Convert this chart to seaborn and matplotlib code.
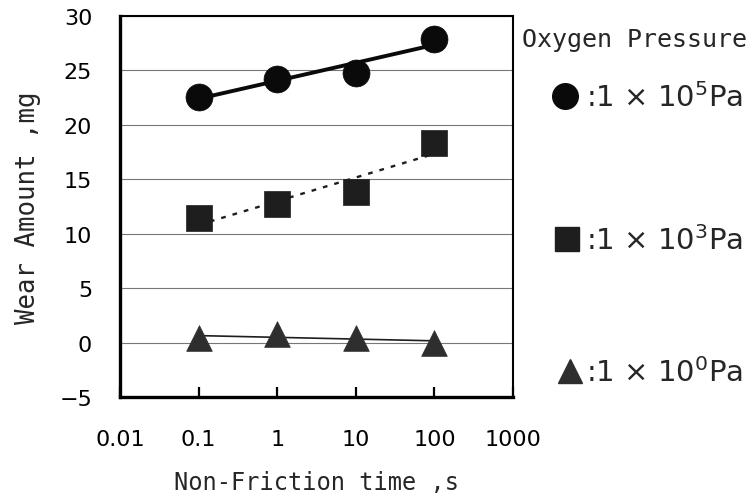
import numpy as np
import pandas as pd
import matplotlib
matplotlib.use("Agg")
import matplotlib.pyplot as plt
from matplotlib.lines import Line2D
import seaborn as sns

# ---- data ----
times = [0.1, 1, 10, 100]
wear_1e5 = [22.6, 24.2, 24.8, 27.9]
wear_1e3 = [11.4, 12.75, 13.85, 18.3]
wear_1e0 = [0.4, 0.8, 0.4, 0.0]
x_ticks = [0.01, 0.1, 1, 10, 100, 1000]
x_tick_labels = ["0.01", "0.1", "1", "10", "100", "1000"]
y_ticks = [-5, 0, 5, 10, 15, 20, 25, 30]
legend_title = "Oxygen Pressure"
legend_labels = [":1 × 10$^5$Pa", ":1 × 10$^3$Pa", ":1 × 10$^0$Pa"]

sns.set_style("white")
plt.rcParams['font.family'] = ['DejaVu Sans']
plt.rcParams['mathtext.default'] = 'regular'

fig = plt.figure(figsize=(7.55, 5.02), dpi=100)
W, H = 755, 502
ax = fig.add_axes([120 / W, 1 - 398 / H, (513 - 120) / W, (398 - 17) / H])

series = [
    (wear_1e5, 'o', '#0a0a0a', 19.4, dict(color='#0a0a0a', lw=2.8, ls='-')),
    (wear_1e3, 's', '#1e1e1e', 18.5, dict(color='#1e1e1e', lw=1.7, ls=(0, (2, 3)))),
    (wear_1e0, '^', '#2e2e2e', 18.5, dict(color='#1e1e1e', lw=1.2, ls='-')),
]

for vals, mk, col, ms, lkw in series:
    df = pd.DataFrame({"t": times, "w": vals})
    sns.regplot(data=df, x="t", y="w", logx=True, ci=None, scatter=False,
                truncate=True, line_kws=lkw, ax=ax)
    sns.scatterplot(data=df, x="t", y="w", marker=mk, color=col, s=ms ** 2,
                    edgecolor=col, linewidth=0.5, ax=ax, zorder=5)

ax.set_xscale('log')
ax.set_xlim(0.01, 1000)
ax.set_ylim(-5, 30)
ax.set_xticks(x_ticks)
ax.set_xticklabels(x_tick_labels)
ax.minorticks_off()
ax.set_yticks(y_ticks)
ax.set_yticklabels([f"{v:g}".replace('-', '−') for v in y_ticks])
ax.tick_params(axis='x', direction='in', length=7, width=1.6, pad=23,
               labelsize=16, bottom=True, colors='black')
ax.tick_params(axis='y', length=0, pad=20, labelsize=16, colors='black')

ax.grid(axis='y', color='#777777', lw=0.8)
ax.grid(axis='x', visible=False)
ax.set_axisbelow(True)
for side, lw in [('left', 2.4), ('bottom', 2.4), ('top', 1.5), ('right', 1.5)]:
    ax.spines[side].set_visible(True)
    ax.spines[side].set_linewidth(lw)
    ax.spines[side].set_color('black')

mono = ['DejaVu Sans Mono']
ax.set_xlabel("Non-Friction time ,s", family=mono, fontsize=17, labelpad=15)
ax.set_ylabel("Wear Amount ,mg", family=mono, fontsize=18.5, labelpad=13)

# legend (manual, figure coordinates)
fig.text(634 / W, 1 - 40 / H, legend_title, family=mono, fontsize=18,
         ha='center', va='center')
leg_pos = [(565, 97), (567, 240), (570, 372)]
for (vals, mk, col, ms, lkw), (px, py), lab in zip(series, leg_pos, legend_labels):
    fig.add_artist(Line2D([px / W], [1 - py / H], marker=mk, markersize=ms * 0.95,
                          color=col, ls='none', transform=fig.transFigure))
    fig.text(586 / W, 1 - (py + 1) / H, lab, fontsize=21, ha='left', va='center')

fig.savefig("out.png", dpi=100)
